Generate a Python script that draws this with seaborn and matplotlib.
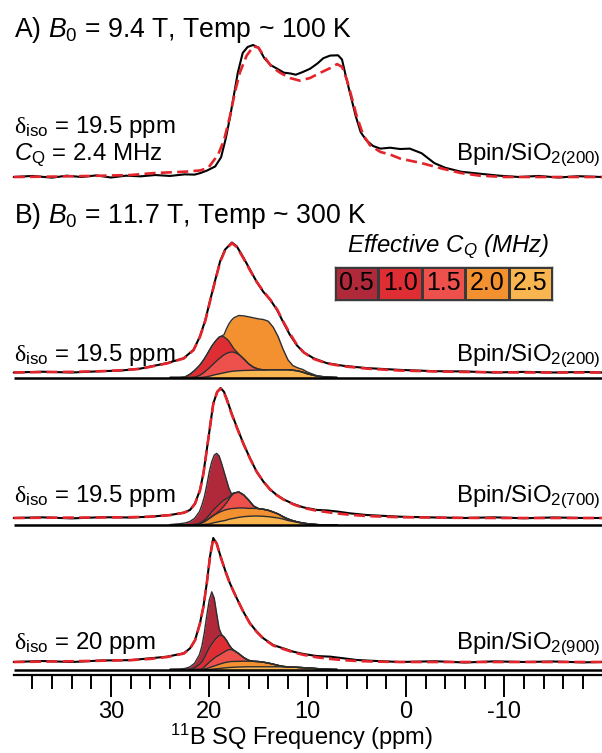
import numpy as np
import matplotlib
matplotlib.use("Agg")
import matplotlib.pyplot as plt
import seaborn as sns
from matplotlib.colors import ListedColormap

# ---------------- data (ppm axis, intensities normalised to each spectrum's maximum) ----------------
# Panel A: B0 = 9.4 T, ~100 K
PPM_A_EXP = [39.9, 38, 36, 34.5, 33, 31.5, 30, 28.5, 27, 25.5, 24, 22.5, 21.5, 20.9, 20.2, 19.4, 18.8,
             18.3, 17.9, 17.5, 17.1, 16.6, 16.1, 15.55, 15.0, 14.4, 13.8, 13.1, 12.4, 11.8, 11.2, 10.5,
             9.75, 9.0, 8.4, 7.7, 6.9, 6.5, 6.1, 5.6, 5.1, 4.6, 4.05, 3.35, 2.6, 1.6, 0.6, -0.4, -1.6,
             -2.9, -4.0, -5.6, -7.5, -9.5, -11.5, -13.5, -15.5, -17.5, -19.95]
EXP_A = [0.0, 0.008, -0.005, 0.01, 0.0, 0.012, -0.004, 0.01, 0.005, 0.015, 0.008, 0.02, 0.018, 0.03,
         0.05, 0.08, 0.15, 0.30, 0.45, 0.62, 0.79, 0.94, 0.985, 1.0, 0.98, 0.90, 0.85, 0.82, 0.79, 0.785,
         0.775, 0.795, 0.82, 0.86, 0.90, 0.92, 0.922, 0.89, 0.76, 0.61, 0.46, 0.34, 0.28, 0.235, 0.215,
         0.222, 0.212, 0.215, 0.18, 0.105, 0.07, 0.04, 0.025, 0.01, 0.0, 0.008, -0.004, 0.006, 0.0]
PPM_A_FIT = [39.9, 36, 32, 28, 25.6, 22.5, 20.9, 20.1, 19.9, 19.1, 18.5, 17.9, 17.4, 16.9, 16.2, 15.5,
             15.0, 14.3, 13.65, 12.8, 11.8, 10.8, 9.75, 8.7, 7.7, 7.0, 6.5, 6.0, 5.5, 5.0, 4.35, 3.65,
             2.6, 1.6, 0.6, -1.6, -3.6, -5.6, -7.5, -10, -15, -19.95]
FIT_A = [0.0, 0.003, 0.008, 0.015, 0.03, 0.04, 0.05, 0.07, 0.09, 0.17, 0.28, 0.46, 0.64, 0.79, 0.92,
         0.99, 0.98, 0.90, 0.835, 0.79, 0.75, 0.73, 0.75, 0.79, 0.825, 0.855, 0.835, 0.735, 0.60, 0.46,
         0.32, 0.24, 0.19, 0.17, 0.14, 0.105, 0.065, 0.03, 0.01, 0.0, 0.0, 0.0]

# Panel B, Bpin/SiO2(200)
PPM_B1 = [39.9, 37, 34, 31, 29, 27, 26.0, 24.3, 22.6, 21.6, 20.95, 20.4, 19.9, 19.4, 18.9, 18.4, 17.7,
          17.2, 16.5, 15.85, 15.2, 14.5, 13.8, 13.1, 12.5, 11.8, 11.1, 10.4, 9.4, 8.05, 6.4, 4.0, 0.6,
          -3, -6, -9, -12, -15, -18, -19.95]
EXP_B1 = [0.0, 0.006, 0.0, 0.01, 0.015, 0.03, 0.046, 0.072, 0.11, 0.175, 0.277, 0.405, 0.56, 0.71, 0.855,
          0.945, 1.0, 0.97, 0.88, 0.79, 0.70, 0.62, 0.56, 0.48, 0.39, 0.29, 0.21, 0.155, 0.11, 0.072,
          0.052, 0.034, 0.02, 0.01, 0.008, 0.0, 0.005, 0.0, 0.004, 0.0]
FIT_B1 = [0.0, 0.003, 0.005, 0.01, 0.017, 0.028, 0.044, 0.07, 0.108, 0.172, 0.275, 0.40, 0.555, 0.705,
          0.85, 0.94, 0.995, 0.965, 0.875, 0.785, 0.70, 0.625, 0.56, 0.485, 0.395, 0.30, 0.215, 0.155,
          0.105, 0.07, 0.048, 0.03, 0.015, 0.008, 0.004, 0.002, 0.0, 0.0, 0.0, 0.0]

# Panel B, Bpin/SiO2(700)
PPM_B2 = [39.9, 37, 34, 31, 28, 26.0, 24.0, 22.6, 21.96, 21.45, 20.95, 20.6, 20.26, 19.93, 19.6, 19.2,
          18.85, 18.5, 18.2, 17.73, 17.2, 16.54, 15.86, 15.18, 14.5, 13.82, 13.14, 12.47, 11.45, 10.44,
          9.07, 8.0, 7.0, 5.7, 4.0, 0.6, -3, -6, -9, -12, -15, -18, -19.95]
EXP_B2 = [0.0, 0.005, -0.003, 0.006, 0.004, 0.01, 0.023, 0.041, 0.062, 0.113, 0.215, 0.344, 0.523, 0.70,
          0.88, 0.97, 1.0, 0.97, 0.91, 0.805, 0.70, 0.574, 0.459, 0.356, 0.28, 0.22, 0.177, 0.144, 0.108,
          0.082, 0.062, 0.058, 0.05, 0.036, 0.023, 0.01, 0.004, 0.0, 0.005, -0.002, 0.004, 0.0, 0.0]
FIT_B2 = [0.0, 0.002, 0.003, 0.004, 0.006, 0.01, 0.022, 0.04, 0.06, 0.11, 0.21, 0.34, 0.52, 0.70, 0.875,
          0.97, 0.995, 0.965, 0.905, 0.8, 0.695, 0.572, 0.458, 0.356, 0.28, 0.22, 0.176, 0.143, 0.105,
          0.078, 0.056, 0.045, 0.035, 0.025, 0.015, 0.006, 0.003, 0.001, 0.0, 0.0, 0.0, 0.0, 0.0]

# Panel B, Bpin/SiO2(900)
PPM_B3 = [39.9, 37, 34, 31, 28, 26.0, 24.3, 22.6, 21.96, 21.45, 20.95, 20.6, 20.26, 19.93, 19.6, 19.25,
          18.9, 18.4, 17.9, 17.2, 16.54, 15.86, 15.18, 14.5, 13.5, 12.47, 11.45, 10.44, 9.07, 7.7, 6.37,
          5.0, 2.97, 0.6, -3, -6, -9, -12, -15, -18, -19.95]
EXP_B3 = [0.0, 0.008, 0.0, 0.012, 0.015, 0.03, 0.043, 0.07, 0.11, 0.177, 0.312, 0.446, 0.634, 0.85, 1.0,
          0.957, 0.863, 0.742, 0.634, 0.513, 0.406, 0.312, 0.245, 0.191, 0.137, 0.11, 0.083, 0.065,
          0.048, 0.043, 0.03, 0.016, 0.008, 0.0, 0.006, -0.004, 0.005, 0.0, 0.004, -0.003, 0.0]
FIT_B3 = [0.0, 0.003, 0.006, 0.01, 0.015, 0.025, 0.04, 0.068, 0.108, 0.175, 0.31, 0.445, 0.63, 0.845,
          0.995, 0.955, 0.86, 0.74, 0.632, 0.512, 0.405, 0.31, 0.243, 0.188, 0.133, 0.105, 0.078, 0.058,
          0.038, 0.025, 0.015, 0.008, 0.003, 0.0, 0.0, 0.0, 0.0, 0.0, 0.0, 0.0, 0.0]

# simulated components (one per effective CQ), common ppm grid
COMP_PPM = [24, 23, 22.5, 22, 21.5, 21, 20.75, 20.5, 20.25, 20, 19.75, 19.5, 19.25, 19, 18.75, 18.5,
            18.25, 18, 17.75, 17.5, 17, 16.5, 16, 15.5, 15, 14.5, 14, 13.5, 13, 12.5, 12, 11.5, 11,
            10.5, 10, 9, 8, 7]
B1_CQ25 = [0, 0, 0, 0, 0, 0, 0, 0.003, 0.006, 0.010, 0.015, 0.020, 0.024, 0.028, 0.032, 0.036, 0.040,
           0.044, 0.047, 0.050, 0.052, 0.054, 0.055, 0.056, 0.057, 0.058, 0.060, 0.060, 0.060, 0.060,
           0.060, 0.056, 0.051, 0.041, 0.028, 0.010, 0.003, 0]
B1_CQ15 = [0, 0, 0, 0, 0.003, 0.015, 0.027, 0.038, 0.051, 0.064, 0.077, 0.090, 0.103, 0.116, 0.128,
           0.138, 0.145, 0.148, 0.149, 0.145, 0.125, 0.090, 0.050, 0.023, 0.007, 0.001,
           0, 0, 0, 0, 0, 0, 0, 0, 0, 0, 0, 0]
B1_CQ10 = [0, 0, 0.003, 0.023, 0.051, 0.077, 0.090, 0.103, 0.118, 0.134, 0.148, 0.157, 0.163, 0.166,
           0.158, 0.138, 0.113, 0.087, 0.054, 0.026, 0.003,
           0, 0, 0, 0, 0, 0, 0, 0, 0, 0, 0, 0, 0, 0, 0, 0, 0]
B1_CQ20 = [0, 0, 0, 0, 0, 0, 0, 0, 0, 0, 0, 0, 0, 0, 0, 0.018, 0.077, 0.134, 0.190, 0.238, 0.297,
           0.330, 0.362, 0.380, 0.387, 0.387, 0.373, 0.327, 0.255, 0.158, 0.076, 0.036, 0.023, 0.021,
           0.013, 0.002, 0, 0]

B2_CQ25 = [0, 0, 0, 0, 0, 0, 0.002, 0.004, 0.006, 0.008, 0.013, 0.018, 0.022, 0.026, 0.030, 0.033,
           0.038, 0.044, 0.048, 0.051, 0.059, 0.064, 0.067, 0.069, 0.069, 0.067, 0.064, 0.059, 0.054,
           0.046, 0.035, 0.027, 0.020, 0.013, 0.008, 0.002, 0, 0]
B2_CQ20 = [0, 0, 0, 0, 0, 0.008, 0.015, 0.022, 0.032, 0.043, 0.051, 0.059, 0.065, 0.071, 0.075, 0.080,
           0.080, 0.079, 0.078, 0.077, 0.072, 0.067, 0.061, 0.059, 0.057, 0.054, 0.049, 0.041, 0.031,
           0.018, 0.011, 0.006, 0.003, 0.002, 0.002, 0.001, 0, 0]
B2_CQ15 = [0, 0, 0, 0, 0, 0, 0, 0, 0, 0, 0, 0, 0.003, 0.010, 0.021, 0.033, 0.052, 0.074, 0.099, 0.116,
           0.123, 0.100, 0.064, 0.018, 0, 0, 0, 0, 0, 0, 0, 0, 0, 0, 0, 0, 0, 0]
B2_CQ10 = [0, 0, 0, 0, 0.005, 0.005, 0.007, 0.012, 0.018, 0.026, 0.036, 0.044, 0.050, 0.052, 0.050,
           0.046, 0.033, 0.016, 0.007, 0.002, 0, 0, 0, 0, 0, 0, 0, 0, 0, 0, 0, 0, 0, 0, 0, 0, 0, 0]
B2_CQ05 = [0.003, 0.010, 0.015, 0.026, 0.046, 0.090, 0.130, 0.180, 0.252, 0.333, 0.387, 0.417, 0.411,
           0.372, 0.298, 0.218, 0.143, 0.069, 0.008, 0, 0, 0, 0, 0, 0, 0, 0, 0, 0, 0, 0, 0, 0, 0, 0,
           0, 0, 0]

B3_CQ25 = [0, 0, 0, 0, 0, 0, 0, 0, 0, 0, 0.002, 0.004, 0.006, 0.008, 0.010, 0.012, 0.014, 0.016, 0.017,
           0.018, 0.020, 0.021, 0.022, 0.022, 0.022, 0.022, 0.022, 0.022, 0.022, 0.021, 0.020, 0.019,
           0.017, 0.015, 0.012, 0.007, 0.002, 0]
B3_CQ20 = [0, 0, 0, 0, 0, 0, 0.002, 0.004, 0.008, 0.015, 0.020, 0.024, 0.029, 0.034, 0.038, 0.042,
           0.044, 0.046, 0.047, 0.047, 0.046, 0.046, 0.045, 0.044, 0.042, 0.037, 0.030, 0.021, 0.011,
           0.004, 0.001, 0, 0, 0, 0, 0, 0, 0]
B3_CQ15 = [0, 0, 0, 0, 0, 0, 0.002, 0.016, 0.032, 0.043, 0.053, 0.064, 0.070, 0.074, 0.080, 0.086,
           0.094, 0.098, 0.096, 0.087, 0.062, 0.029, 0.007, 0, 0, 0, 0, 0, 0, 0, 0, 0, 0, 0, 0, 0, 0, 0]
B3_CQ10 = [0, 0, 0, 0, 0.012, 0.040, 0.056, 0.075, 0.095, 0.117, 0.130, 0.140, 0.150, 0.156, 0.149,
           0.122, 0.083, 0.040, 0.012, 0.003, 0, 0, 0, 0, 0, 0, 0, 0, 0, 0, 0, 0, 0, 0, 0, 0, 0, 0]
B3_CQ05 = [0, 0.003, 0.008, 0.020, 0.038, 0.080, 0.130, 0.205, 0.305, 0.385, 0.421, 0.343, 0.195, 0.058,
           0.005, 0, 0, 0, 0, 0, 0, 0, 0, 0, 0, 0, 0, 0, 0, 0, 0, 0, 0, 0, 0, 0, 0, 0]

CQ_VALUES = [0.5, 1.0, 1.5, 2.0, 2.5]
CQ_LABELS = ["0.5", "1.0", "1.5", "2.0", "2.5"]
CQ_COLORS = ["#b0293b", "#de2d33", "#ee504b", "#f3902f", "#f9b650"]

TICK_VALUES = [30, 20, 10, 0, -10]
TICK_LABELS = ["30", "20", "10", "0", "-10"]
MINOR_TICKS = [38, 36, 34, 32, 28, 26, 24, 22, 18, 16, 14, 12, 8, 6, 4, 2,
               -2, -4, -6, -8, -12, -14, -16, -18]

# ---------------- style ----------------
sns.set_theme(style="white")
plt.rcParams['font.family'] = ['Liberation Sans', 'DejaVu Sans']
plt.rcParams['mathtext.fontset'] = 'custom'
plt.rcParams['mathtext.rm'] = 'Liberation Sans'
plt.rcParams['mathtext.it'] = 'Liberation Sans:italic'
plt.rcParams['mathtext.bf'] = 'Liberation Sans:bold'
plt.rcParams['mathtext.sf'] = 'Liberation Serif'

W, H = 602, 753
fig = plt.figure(figsize=(W / 100, H / 100), dpi=100)
ax = fig.add_axes([0, 0, 1, 1])
# x in ppm (reversed); y in figure pixel rows measured from the top
PX_PER_PPM = 9.83
X_AT_30 = 111
ax.set_xlim(30 + X_AT_30 / PX_PER_PPM, 30 - (W - X_AT_30) / PX_PER_PPM)
ax.set_ylim(H, 0)

RED = "#e3242b"
EDGE = "#2e2e2e"


def draw_spectrum(ppm, exp, fit_ppm, fit, base, scale):
    sns.lineplot(x=ppm, y=base - np.asarray(exp) * scale, ax=ax, color="black", lw=1.5,
                 estimator=None, sort=False, zorder=6)
    sns.lineplot(x=fit_ppm, y=base - np.asarray(fit) * scale, ax=ax, color=RED,
                 lw=1.9, estimator=None, sort=False, zorder=7, linestyle=(0, (4.2, 2.0)))


def draw_components(layers, base, scale, x_full):
    grid = np.asarray(COMP_PPM)
    cum = np.zeros(len(grid))
    for values, cq in layers:
        lower = cum.copy()
        cum = cum + np.asarray(values)
        color = CQ_COLORS[CQ_VALUES.index(cq)]
        ax.fill_between(grid, base - lower * scale, base - cum * scale, color=color, lw=0, zorder=3)
        ax.plot(grid, base - cum * scale, color=EDGE, lw=1.0, zorder=4)
    ax.plot(x_full, [base, base], color="black", lw=1.8, zorder=5, solid_capstyle="butt")


X_FULL = [PPM_B1[0], PPM_B1[-1]]

# Panel A
draw_spectrum(PPM_A_EXP, EXP_A, PPM_A_FIT, FIT_A, base=177, scale=132)

# Panel B spectra and components
draw_spectrum(PPM_B1, EXP_B1, PPM_B1, FIT_B1, base=372.5, scale=130)
draw_components([(B1_CQ25, 2.5), (B1_CQ15, 1.5), (B1_CQ10, 1.0), (B1_CQ20, 2.0)],
                base=377.5, scale=130, x_full=X_FULL)

draw_spectrum(PPM_B2, EXP_B2, PPM_B2, FIT_B2, base=518, scale=130)
draw_components([(B2_CQ25, 2.5), (B2_CQ20, 2.0), (B2_CQ15, 1.5), (B2_CQ10, 1.0), (B2_CQ05, 0.5)],
                base=525, scale=130, x_full=X_FULL)

draw_spectrum(PPM_B3, EXP_B3, PPM_B3, FIT_B3, base=662, scale=124)
draw_components([(B3_CQ25, 2.5), (B3_CQ20, 2.0), (B3_CQ15, 1.5), (B3_CQ10, 1.0), (B3_CQ05, 0.5)],
                base=669.5, scale=124, x_full=X_FULL)

# axis
for s in ["top", "left", "right"]:
    ax.spines[s].set_visible(False)
ax.spines["bottom"].set_position(("data", 675))
ax.spines["bottom"].set_bounds(X_FULL[0], X_FULL[1])
ax.spines["bottom"].set_linewidth(1.6)
ax.spines["bottom"].set_color("black")
ax.set_yticks([])
ax.xaxis.set_ticks_position("bottom")
ax.set_xticks(TICK_VALUES)
ax.set_xticklabels(TICK_LABELS)
ax.set_xticks(MINOR_TICKS, minor=True)
ax.tick_params(axis="x", which="major", direction="out", length=16, width=1.4, color="black",
               labelsize=17, pad=3, labelcolor="black")
ax.tick_params(axis="x", which="minor", direction="out", length=10, width=1.4, color="black")
ax.set_xlabel("")
ax.set_ylabel("")


def ptext(x, y, s, **kw):
    fig.text(x / W, 1 - y / H, s, color="black", **kw)


TS = 19.2
FS = 17.3
DELTA = r"$\mathsf{\delta}_\mathrm{iso}$"
ptext(14, 37, r"A) $\mathit{B}_0$ = 9.4 T, Temp ~ 100 K", fontsize=TS, va="baseline")
ptext(14, 133, DELTA + " = 19.5 ppm", fontsize=FS, va="baseline")
ptext(14, 160, r"$\mathit{C}_\mathrm{Q}$ = 2.4 MHz", fontsize=FS, va="baseline")
ptext(601, 160, r"Bpin/SiO$_{2(200)}$", fontsize=FS, va="baseline", ha="right")

ptext(14, 223, r"B) $\mathit{B}_0$ = 11.7 T, Temp ~ 300 K", fontsize=TS, va="baseline")
ptext(14, 361, DELTA + " = 19.5 ppm", fontsize=FS, va="baseline")
ptext(601, 361, r"Bpin/SiO$_{2(200)}$", fontsize=FS, va="baseline", ha="right")
ptext(14, 502, DELTA + " = 19.5 ppm", fontsize=FS, va="baseline")
ptext(601, 502, r"Bpin/SiO$_{2(700)}$", fontsize=FS, va="baseline", ha="right")
ptext(14, 649, DELTA + " = 20 ppm", fontsize=FS, va="baseline")
ptext(601, 649, r"Bpin/SiO$_{2(900)}$", fontsize=FS, va="baseline", ha="right")

ptext(W / 2, 745, r"$^{11}$B SQ Frequency (ppm)", fontsize=17, ha="center", va="baseline")

# legend: effective CQ colour key as a one-row heatmap
ptext(448, 247, r"Effective C$_\mathit{Q}$ (MHz)", fontsize=FS, ha="center", va="center",
      fontstyle="italic")
lax = fig.add_axes([335 / W, 1 - 300 / H, (552 - 335) / W, (300 - 267) / H])
sns.heatmap(np.array([CQ_VALUES]), ax=lax, cmap=ListedColormap(CQ_COLORS), vmin=0.25, vmax=2.75,
            annot=np.array([CQ_LABELS]), fmt="", cbar=False, linewidths=1.0, linecolor="#3a3a3a",
            xticklabels=False, yticklabels=False,
            annot_kws=dict(fontsize=18, color="black"))
for s in lax.spines.values():
    s.set_visible(True)
    s.set_color("#3a3a3a")
    s.set_linewidth(1.0)

fig.savefig("out.png", dpi=100)
